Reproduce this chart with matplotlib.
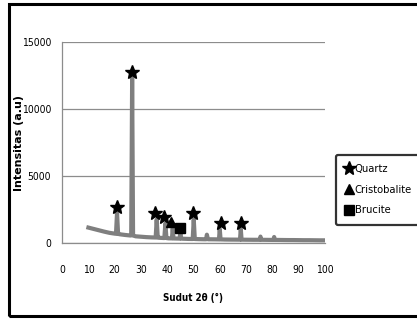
import matplotlib
matplotlib.use("Agg")
import matplotlib.pyplot as plt
from matplotlib.patches import Rectangle

plt.rcParams['font.family'] = ['DejaVu Sans']
plt.rcParams['font.stretch'] = 'condensed'

# XRD pattern (2-theta, intensity)
two_theta = [10, 12, 14, 16, 18, 20, 20.5, 20.9, 21.3, 22, 24, 26, 26.3, 26.65, 27.0,
             28, 30, 32, 34, 35.6, 36.0, 36.4, 37, 38.9, 39.3, 39.7, 40.5, 41.8, 42.1,
             42.4, 43.5, 44.7, 45.0, 45.3, 46, 48, 49.7, 50.1, 50.5, 52, 54, 54.8, 55.1,
             55.5, 58, 59.7, 60.0, 60.3, 62, 64, 67.7, 68.0, 68.3, 70, 73, 75.2, 75.5, 75.8,
             78, 80.4, 80.7, 81, 82, 84, 86, 88, 90, 92, 94, 96, 98, 100]
intensity = [1150, 1050, 950, 850, 760, 700, 690, 2250, 680, 650, 600, 560, 570, 12350, 560,
             500, 470, 440, 420, 410, 1750, 400, 390, 370, 1450, 370, 350, 345, 1100,
             340, 335, 330, 800, 330, 320, 305, 300, 1750, 300, 290, 280, 280, 620,
             280, 275, 270, 1050, 270, 260, 255, 250, 1050, 250, 245, 240, 240, 480, 240,
             235, 230, 450, 230, 230, 225, 220, 220, 215, 210, 210, 205, 200, 200]

quartz_x = [20.9, 26.6, 35.4, 38.8, 50.0, 60.4, 68.0]
quartz_y = [2690, 12760, 2240, 1940, 2240, 1490, 1490]
cristobalite_x = [41.4]
cristobalite_y = [1570]
brucite_x = [44.9]
brucite_y = [1120]

fig = plt.figure(figsize=(4.17, 3.22), dpi=100)
ax = fig.add_axes([0.149, 0.2453, 0.630, 0.6243])

ax.plot(two_theta, intensity, color='#7f7f7f', lw=3.0, solid_joinstyle='round', zorder=2)
q, = ax.plot(quartz_x, quartz_y, ls='', marker='*', ms=10, color='black', label='Quartz', zorder=3)
c, = ax.plot(cristobalite_x, cristobalite_y, ls='', marker='^', ms=6.5, color='black', label='Cristobalite', zorder=3)
b, = ax.plot(brucite_x, brucite_y, ls='', marker='s', ms=7, color='black', label='Brucite', zorder=3)

ax.set_xlim(0, 100)
ax.set_ylim(0, 15000)
ax.set_xticks(range(0, 101, 10))
ax.set_yticks([0, 5000, 10000, 15000])
ax.yaxis.grid(True, color='#8c8c8c', lw=0.9)
ax.set_axisbelow(True)
for s in ['top', 'right']:
    ax.spines[s].set_visible(False)
for s in ['left', 'bottom']:
    ax.spines[s].set_color('#8c8c8c')
    ax.spines[s].set_linewidth(0.9)
ax.tick_params(axis='both', length=0, labelsize=7.5)
ax.tick_params(axis='x', pad=16)
ax.tick_params(axis='y', pad=8)

ax.set_xlabel('Sudut 2θ (°)', fontsize=7, fontweight='bold', labelpad=13)
ax.set_ylabel('Intensitas (a.u)', fontsize=8, fontweight='bold', fontstretch='normal', labelpad=-2)

leg = fig.legend(handles=[q, c, b], loc='upper left', bbox_to_anchor=(0.805, 0.519),
                 fontsize=8, frameon=True, fancybox=True, edgecolor='black',
                 handlelength=0.7, handletextpad=0.15, borderpad=0.85, labelspacing=0.95,
                 borderaxespad=0, markerscale=1.0)
leg.get_frame().set_linewidth(1.6)

fig.patches.append(Rectangle((0.022, 0.0186), 1.1, 0.969, transform=fig.transFigure,
                             fill=False, edgecolor='black', lw=2.2))

fig.savefig('out.png', dpi=100)
